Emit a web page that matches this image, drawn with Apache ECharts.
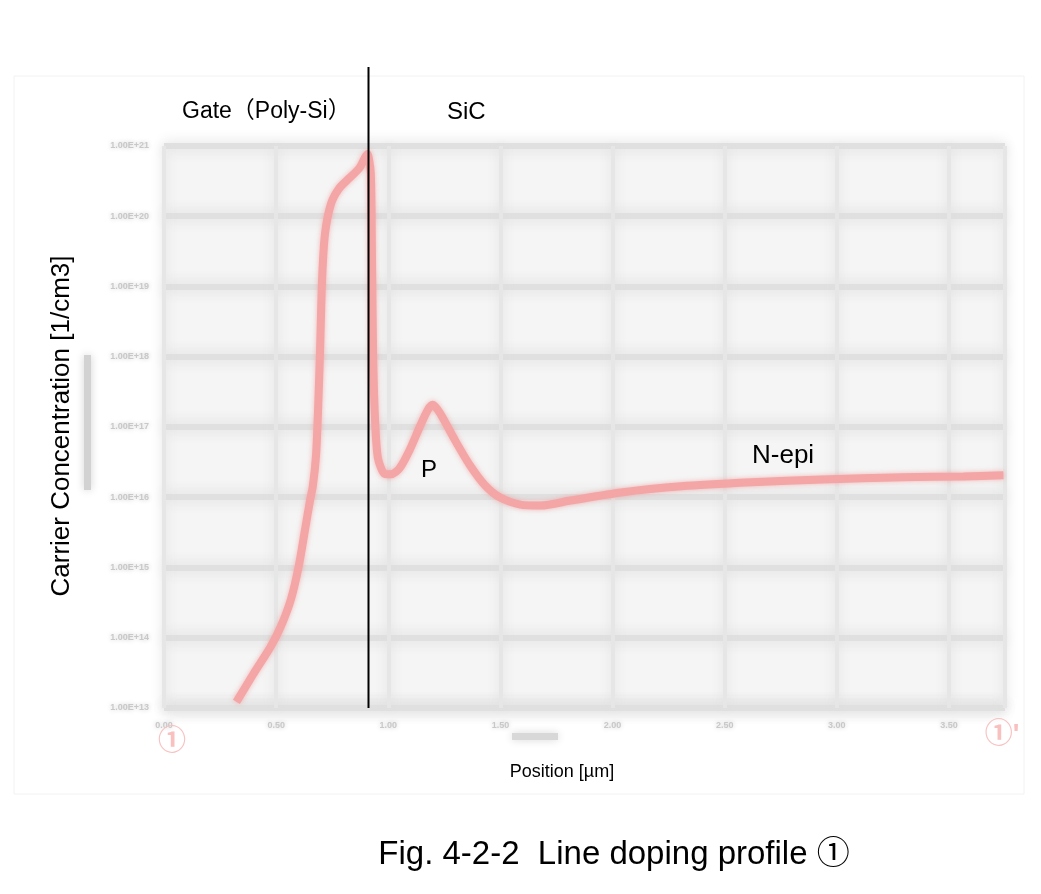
<!DOCTYPE html>
<html>
<head>
<meta charset="utf-8">
<script src="https://cdn.jsdelivr.net/npm/echarts@6/dist/echarts.min.js"></script>
<style>
html,body{margin:0;padding:0;background:#fff;}
#chart{width:1041px;height:894px;}
</style>
</head>
<body>
<div id="chart"></div>
<script>
// Position along the cut line [µm]
const positions = [0.323,0.399,0.476,0.521,0.566,0.601,0.628,0.651,0.664,0.678,0.687,0.696,0.705,0.718,0.745,0.781,0.826,0.871,0.895,0.907,
  0.922,0.927,0.932,0.941,0.954,0.981,1.012,1.050,1.095,1.140,1.176,1.198,1.230,1.297,1.364,1.432,1.499,1.589,1.679,1.813,2.038,2.307,2.621,2.935,3.294,3.564,3.743];
// Carrier concentration [1/cm3]
const concentrations = [1.22e13,3.07e13,7.5e13,1.45e14,3.53e14,1.05e15,3.33e15,8.97e15,1.47e16,3.97e16,1.75e17,1.27e18,1.28e19,5.66e19,1.52e20,2.5e20,3.48e20,4.84e20,6.73e20,7.67e20,
  4.1e20,3.45e19,1.27e18,1.26e17,3.6e16,2.19e16,2.12e16,2.58e16,4.68e16,1.0e17,1.75e17,2.07e17,1.59e17,6.52e16,2.85e16,1.47e16,9.9e15,7.87e15,7.62e15,8.97e15,1.17e16,1.43e16,1.63e16,1.79e16,1.92e16,1.98e16,2.05e16];
// Gate / SiC interface position [µm]
const interfaceX = 0.911;
// Axis ranges
const xTicks = {min: 0, max: 3.75, interval: 0.5};
const yRange = {min: 1e13, max: 1e21};
const texts = {
  gate: 'Gate（Poly-Si）', sic: 'SiC', p: 'P', nepi: 'N-epi',
  yName: 'Carrier Concentration [1/cm3]', xName: 'Position [µm]',
  caption: 'Fig. 4-2-2  Line doping profile ①', start: '①', end: "①'"
};

const chart = echarts.init(document.getElementById('chart'));
const FONT = "'Liberation Sans', 'Noto Sans CJK JP', sans-serif";
const blurLabel = {color:'#c8c8c8', fontSize:9, fontWeight:'bold', textShadowColor:'#c8c8c8', textShadowBlur:5};

const data = positions.map((x,i)=>[x, concentrations[i]]);

chart.setOption({
  animation:false,
  backgroundColor:'#fff',
  grid:{left:164, right:36, top:146, bottom:186, show:true, backgroundColor:'#f5f5f5', borderWidth:0,
    shadowColor:'rgba(0,0,0,0.06)', shadowBlur:6},
  xAxis:{type:'value', min:xTicks.min, max:xTicks.max, interval:xTicks.interval,
    axisLine:{show:false}, axisTick:{show:false},
    axisLabel:Object.assign({margin:13, formatter:v=>v.toFixed(2), showMaxLabel:false}, blurLabel),
    splitLine:{show:true, lineStyle:{color:'#e6e6e6', width:4, shadowColor:'#dcdcdc', shadowBlur:12}}},
  yAxis:{type:'log', logBase:10, min:yRange.min, max:yRange.max,
    axisLine:{show:false}, axisTick:{show:false},
    axisLabel:Object.assign({margin:15, formatter:v=>{const e=Math.round(Math.log10(v));return '1.00E+'+e;}}, blurLabel),
    splitLine:{show:true, lineStyle:{color:'#e0e0e0', width:6, shadowColor:'#d6d6d6', shadowBlur:14}}},
  series:[{type:'line', data:data, showSymbol:false, smooth:0.25,
    lineStyle:{color:'#f4a5a5', width:8, shadowColor:'rgba(240,140,140,0.6)', shadowBlur:5}}]
});

function drawGraphics(){
  const px = chart.convertToPixel({gridIndex:0}, [interfaceX, yRange.min]);
  chart.setOption({graphic:[
    {type:'rect', shape:{x:14,y:76,width:1010,height:718}, style:{fill:'none', stroke:'#f2f2f2', lineWidth:1}, silent:true, z:-1},
    {type:'rect', shape:{x:84,y:355,width:7,height:135}, style:{fill:'#d2d2d2', shadowColor:'#d2d2d2', shadowBlur:8}},
    {type:'rect', shape:{x:512,y:733,width:46,height:7}, style:{fill:'#d8d8d8', shadowColor:'#d8d8d8', shadowBlur:8}},
    {type:'line', shape:{x1:Math.round(px[0])+0.5, y1:67, x2:Math.round(px[0])+0.5, y2:708}, style:{stroke:'#000', lineWidth:2}, z:100},
    {type:'text', x:182, y:112, style:{text:texts.gate, font:'23px '+FONT, fill:'#000', textVerticalAlign:'middle'}, z:100},
    {type:'text', x:447, y:112, style:{text:texts.sic, font:'24px '+FONT, fill:'#000', textVerticalAlign:'middle'}, z:100},
    {type:'text', x:421, y:470, style:{text:texts.p, font:'24px '+FONT, fill:'#000', textVerticalAlign:'middle'}, z:100},
    {type:'text', x:752, y:456, style:{text:texts.nepi, font:'26px '+FONT, fill:'#000', textVerticalAlign:'middle'}, z:100},
    {type:'text', x:62, y:426, rotation:Math.PI/2, style:{text:texts.yName, font:'26px '+FONT, fill:'#000', textAlign:'center', textVerticalAlign:'middle'}, z:100},
    {type:'text', x:562, y:772, style:{text:texts.xName, font:'18px '+FONT, fill:'#000', textAlign:'center', textVerticalAlign:'middle'}, z:100},
    {type:'text', x:614, y:855, style:{text:texts.caption, font:'33px '+FONT, fill:'#000', textAlign:'center', textVerticalAlign:'middle'}, z:100},
    {type:'text', x:172, y:742, style:{text:texts.start, font:'bold 28px '+FONT, fill:'#f9c0c0', textAlign:'center', textVerticalAlign:'middle', shadowColor:'#f6a0a0', shadowBlur:10}, z:100},
    {type:'text', x:1002, y:735, style:{text:texts.end, font:'bold 28px '+FONT, fill:'#f9c0c0', textAlign:'center', textVerticalAlign:'middle', shadowColor:'#f6a0a0', shadowBlur:10}, z:100}
  ]});
}
drawGraphics();
</script>
</body>
</html>
